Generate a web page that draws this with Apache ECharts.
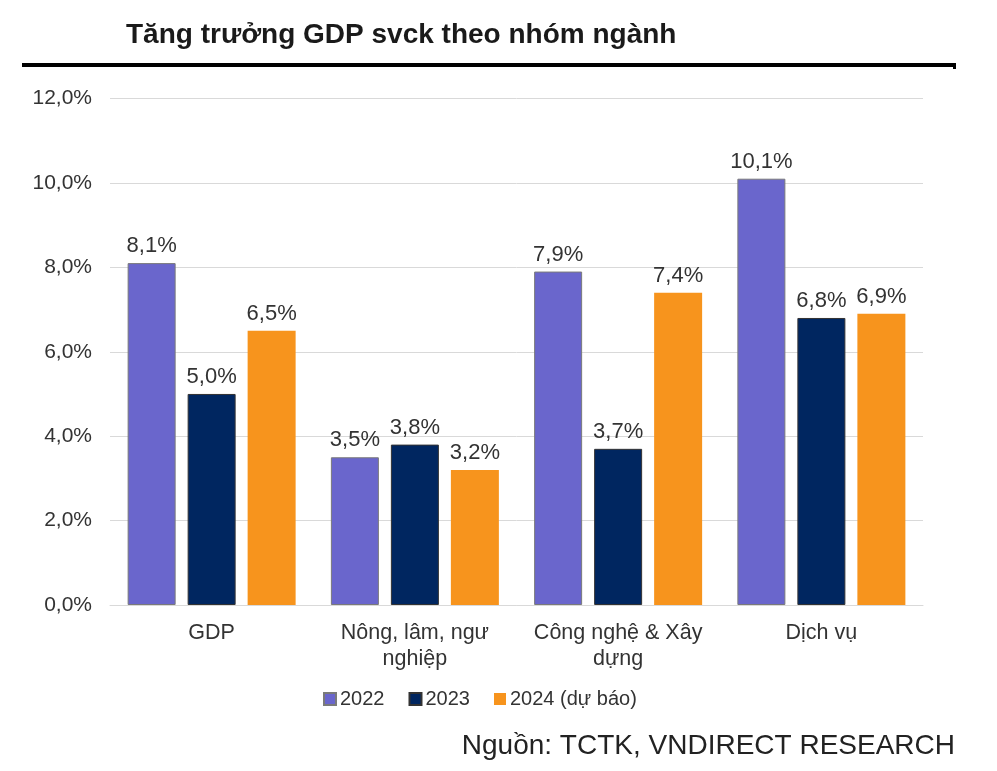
<!DOCTYPE html>
<html>
<head>
<meta charset="utf-8">
<script src="https://cdn.jsdelivr.net/npm/echarts@6/dist/echarts.min.js"></script>
<style>
html,body{margin:0;padding:0;background:#fff;}
#chart{width:997px;height:771px;}
</style>
</head>
<body>
<div id="chart"></div>
<script>
var categories = ['GDP', 'Nông, lâm, ngư\nnghiệp', 'Công nghệ & Xây\ndựng', 'Dịch vụ'];
var seriesNames = ['2022', '2023', '2024 (dự báo)'];
var values2022 = [8.1, 3.5, 7.9, 10.1];
var values2023 = [5.0, 3.8, 3.7, 6.8];
var values2024 = [6.5, 3.2, 7.4, 6.9];
var yTicks = [0, 2, 4, 6, 8, 10, 12];

var FONT = '"Liberation Sans", Arial, sans-serif';
function pct(v){ return v.toFixed(1).replace('.', ',') + '%'; }

var chart = echarts.init(document.getElementById('chart'));
var colors = ['#6A66CC', '#002660', '#F7941D'];
var borders = ['#7a7a7a', '#333333', '#F7941D'];
var dataSets = [values2022, values2023, values2024];

var series = dataSets.map(function(d, i){
  return {
    name: seriesNames[i],
    type: 'bar',
    data: d,
    barWidth: 48,
    barGap: '25%',
    itemStyle: {color: colors[i], borderColor: borders[i], borderWidth: i === 2 ? 0 : 1},
    label: {
      show: true, position: 'top', distance: 6,
      color: '#333', fontSize: 22, fontFamily: FONT,
      formatter: function(p){ return pct(p.value); }
    }
  };
});

chart.setOption({
  animation: false,
  title: {
    text: 'Tăng trưởng GDP svck theo nhóm ngành',
    left: 121, top: 16,
    textStyle: {fontFamily: FONT, fontWeight: 'bold', fontSize: 28, color: '#1a1a1a'}
  },
  legend: {
    data: seriesNames,
    bottom: 57, left: 318,
    itemWidth: 12, itemHeight: 12, itemGap: 24,
    icon: 'rect',
    textStyle: {fontFamily: FONT, fontSize: 20, color: '#333', padding: [0,0,0,-1]}
  },
  grid: {left: 110, right: 74, top: 98.5, bottom: 166, containLabel: false},
  xAxis: {
    type: 'category',
    data: categories,
    axisTick: {show: false},
    axisLine: {lineStyle: {color: '#d9d9d9', width: 1}},
    axisLabel: {fontFamily: FONT, fontSize: 21.5, color: '#333', margin: 15, lineHeight: 26, interval: 0}
  },
  yAxis: {
    type: 'value',
    min: yTicks[0], max: yTicks[yTicks.length-1], interval: 2,
    axisLine: {show: false},
    axisTick: {show: false},
    splitLine: {lineStyle: {color: '#d9d9d9', width: 1}},
    axisLabel: {fontFamily: FONT, fontSize: 21, color: '#333', margin: 18,
      formatter: function(v){ return pct(v); }}
  },
  series: series,
  graphic: [
    {type: 'rect', shape: {x: 22, y: 63, width: 934, height: 4}, style: {fill: '#000'}},
    {type: 'rect', shape: {x: 953, y: 63, width: 3, height: 6}, style: {fill: '#000'}},
    {type: 'text', right: 42, top: 732,
      style: {text: 'Nguồn: TCTK, VNDIRECT RESEARCH', font: '28px ' + FONT, fill: '#222', textAlign: 'right'}}
  ]
});
</script>
</body>
</html>
